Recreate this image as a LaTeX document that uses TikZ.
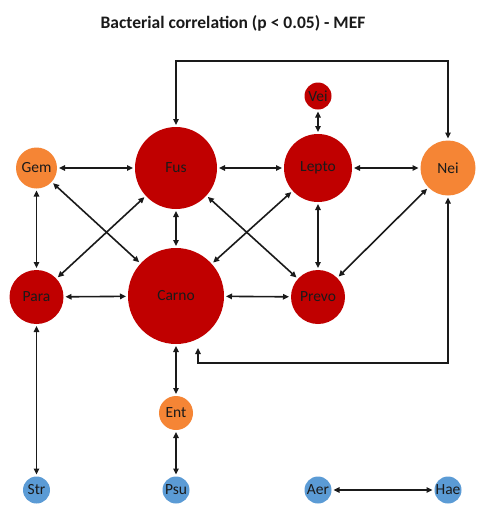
\documentclass[tikz,border=0pt]{standalone}
\usepackage{fontspec}
\setmainfont{Carlito}
\usetikzlibrary{arrows.meta}
\definecolor{cred}{HTML}{C00000}
\definecolor{corange}{HTML}{F58535}
\definecolor{cblue}{HTML}{5B9BD5}
\definecolor{ink}{HTML}{1A1A1A}
\begin{document}
\begin{tikzpicture}[x=1pt,y=-1pt,
  bnode/.style={circle, inner sep=0pt, outer sep=2pt, text=ink,
    font=\fontsize{15.5}{18}\selectfont},
  rednode/.style={bnode, fill=cred},
  orangenode/.style={bnode, fill=corange},
  bluenode/.style={bnode, fill=cblue},
  link/.style={{Triangle[length=6pt,width=5.5pt]}-{Triangle[length=6pt,width=5.5pt]},
    line width=1.6pt, draw=ink},
  titletext/.style={font=\bfseries\fontsize{17.5}{20}\selectfont, text=ink}]
\useasboundingbox (0,0) rectangle (482,520);
\fill[white] (0,0) rectangle (482,520);

\node[titletext] (title) at (233,23) {Bacterial correlation (p < 0.05) - MEF};

\node[orangenode, minimum size=41pt] (Gem) at (36.5,168) {\makebox[0pt]{Gem}};
\node[rednode, minimum size=82pt] (Fus) at (176,168) {\makebox[0pt]{Fus}};
\node[rednode, minimum size=68pt] (Lepto) at (318,168) {\makebox[0pt]{Lepto}};
\node[orangenode, minimum size=55pt] (Nei) at (448,168) {\makebox[0pt]{Nei}};
\node[rednode, minimum size=27pt] (Vei) at (318,96) {\makebox[0pt]{Vei}};
\node[rednode, minimum size=54pt] (Para) at (36.5,297) {\makebox[0pt]{Para}};
\node[rednode, minimum size=96pt] (Carno) at (176,296) {\makebox[0pt]{Carno}};
\node[rednode, minimum size=54pt] (Prevo) at (318,297) {\makebox[0pt]{Prevo}};
\node[orangenode, minimum size=34pt] (Ent) at (176,413) {\makebox[0pt]{Ent}};
\node[bluenode, minimum size=27pt] (Str) at (36.5,490) {\makebox[0pt]{Str}};
\node[bluenode, minimum size=27pt] (Psu) at (176,490) {\makebox[0pt]{Psu}};
\node[bluenode, minimum size=27pt] (Aer) at (318,490) {\makebox[0pt]{Aer}};
\node[bluenode, minimum size=27pt] (Hae) at (448,490) {\makebox[0pt]{Hae}};

\coordinate (topL) at (176,61);
\coordinate (topR) at (448,61);
\coordinate (carEnd) at (198,348);
\coordinate (botL) at (198,363);
\coordinate (botR) at (448,363);

\draw[link] (Gem) -- (Fus);
\draw[link] (Fus) -- (Lepto);
\draw[link] (Lepto) -- (Nei);
\draw[link] (Vei) -- (Lepto);
\draw[link] (Gem) -- (Para);
\draw[link] (Gem) -- (Carno);
\draw[link] (Fus) -- (Para);
\draw[link] (Fus) -- (Carno);
\draw[link] (Fus) -- (Prevo);
\draw[link] (Lepto) -- (Carno);
\draw[link] (Lepto) -- (Prevo);
\draw[link] (Nei) -- (Prevo);
\draw[link] (Para) -- (Carno);
\draw[link] (Carno) -- (Prevo);
\draw[link] (Carno) -- (Ent);
\draw[link] (Ent) -- (Psu);
\draw[link] (Para) -- (Str);
\draw[link] (Aer) -- (Hae);
\draw[link] (Fus) -- (topL) -- (topR) -- (Nei);
\draw[link] (carEnd) -- (botL) -- (botR) -- (Nei);
\end{tikzpicture}
\end{document}
